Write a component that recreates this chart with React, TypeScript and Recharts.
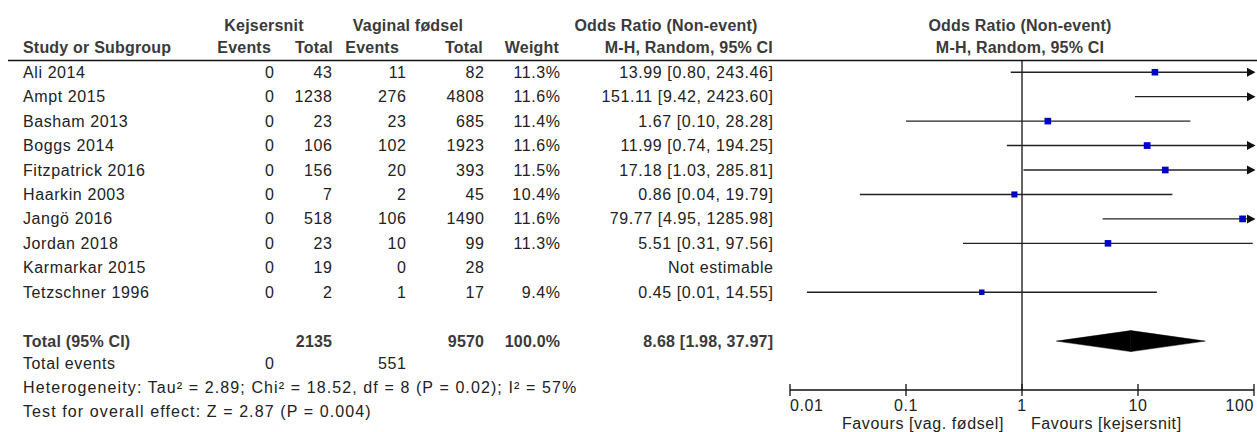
import React from "react";
import { ComposedChart, XAxis, YAxis, Scatter, ReferenceLine } from "recharts";

// study level data
const studies = [
  "Ali 2014",
  "Ampt 2015",
  "Basham 2013",
  "Boggs 2014",
  "Fitzpatrick 2016",
  "Haarkin 2003",
  "Jangö 2016",
  "Jordan 2018",
  "Karmarkar 2015",
  "Tetzschner 1996",
];
const cesEvents = [0, 0, 0, 0, 0, 0, 0, 0, 0, 0];
const cesTotal = [43, 1238, 23, 106, 156, 7, 518, 23, 19, 2];
const vagEvents = [11, 276, 23, 102, 20, 2, 106, 10, 0, 1];
const vagTotal = [82, 4808, 685, 1923, 393, 45, 1490, 99, 28, 17];
const weights = [11.3, 11.6, 11.4, 11.6, 11.5, 10.4, 11.6, 11.3, null, 9.4];
const oddsRatio = [13.99, 151.11, 1.67, 11.99, 17.18, 0.86, 79.77, 5.51, null, 0.45];
const ciLow = [0.8, 9.42, 0.1, 0.74, 1.03, 0.04, 4.95, 0.31, null, 0.014];
const ciHigh = [243.46, 2423.6, 28.28, 194.25, 285.81, 19.79, 1285.98, 97.56, null, 14.55];

const totalCes = 2135;
const totalVag = 9570;
const totalOR = 8.68;
const totalLow = 1.98;
const totalHigh = 37.97;
const totalEventsCes = 0;
const totalEventsVag = 551;
const heterogeneity = "Heterogeneity: Tau² = 2.89; Chi² = 18.52, df = 8 (P = 0.02); I² = 57%";
const overallEffect = "Test for overall effect: Z = 2.87 (P = 0.004)";

const axisTicks = [0.01, 0.1, 1, 10, 100];
const favoursLeft = "Favours [vag. fødsel]";
const favoursRight = "Favours [kejsersnit]";

const W = 1257;
const H = 432;
const FONT = "Arial, 'Liberation Sans', sans-serif";
const TXT = "#222";
const HEAD = "#3a3a3a";
const X_MIN = 0.01;
const X_MAX = 100;

// table columns (right edges unless noted)
const COL = { name: 23, cesE: 274, cesT: 332, vagE: 406, vagT: 484, wt: 560, or: 773 };

const fmtCI = (o: number, l: number, h: number) =>
  `${o.toFixed(2)} [${l.toFixed(2)}, ${h.toFixed(2)}]`;

type Row = {
  pos: number;
  bold?: boolean;
  spacing?: number;
  cells: { x: number; text: string; anchor?: "start" | "end" }[];
};

const rows: Row[] = [
  ...studies.map((s, i) => ({
    pos: i + 1,
    cells: [
      { x: COL.name, text: s, anchor: "start" as const },
      { x: COL.cesE, text: String(cesEvents[i]) },
      { x: COL.cesT, text: String(cesTotal[i]) },
      { x: COL.vagE, text: String(vagEvents[i]) },
      { x: COL.vagT, text: String(vagTotal[i]) },
      { x: COL.wt, text: weights[i] == null ? "" : `${weights[i]!.toFixed(1)}%` },
      {
        x: COL.or,
        text:
          oddsRatio[i] == null
            ? "Not estimable"
            : fmtCI(oddsRatio[i]!, ciLow[i]!, ciHigh[i]!),
      },
    ],
  })),
  {
    pos: 12,
    bold: true,
    cells: [
      { x: COL.name, text: "Total (95% CI)", anchor: "start" },
      { x: COL.cesT, text: String(totalCes) },
      { x: COL.vagT, text: String(totalVag) },
      { x: COL.wt, text: "100.0%" },
      { x: COL.or, text: fmtCI(totalOR, totalLow, totalHigh) },
    ],
  },
  {
    pos: 12.9,
    cells: [
      { x: COL.name, text: "Total events", anchor: "start" },
      { x: COL.cesE, text: String(totalEventsCes) },
      { x: COL.vagE, text: String(totalEventsVag) },
    ],
  },
  { pos: 13.88, spacing: 1.1, cells: [{ x: COL.name, text: heterogeneity, anchor: "start" }] },
  { pos: 14.86, spacing: 1.1, cells: [{ x: COL.name, text: overallEffect, anchor: "start" }] },
];

const rowByPos = new Map(rows.map((r) => [r.pos, r]));

const TableTick = (props: any) => {
  const { y, payload } = props;
  const row = rowByPos.get(payload.value);
  if (!row) return null;
  const ls = row.spacing ?? (row.bold ? 0.2 : 0.6);
  return (
    <g>
      {row.cells.map((c, k) => (
        <text
          key={k}
          x={c.anchor === "start" ? c.x : c.x + ls}
          y={y + 5.5}
          textAnchor={c.anchor ?? "end"}
          fontFamily={FONT}
          fontSize={16}
          fontWeight={row.bold ? "bold" : "normal"}
          letterSpacing={ls}
          fill={row.bold ? HEAD : TXT}
        >
          {c.text}
        </text>
      ))}
    </g>
  );
};

const AxisTick = (props: any) => {
  const { x, y, payload, index } = props;
  const last = axisTicks.length - 1;
  const anchor = index === 0 ? "start" : index === last ? "end" : "middle";
  return (
    <g>
      <line x1={x} y1={y - 6} x2={x} y2={y + 6} stroke="#111" strokeWidth={1.3} />
      <text
        x={x}
        y={y + 21}
        textAnchor={anchor}
        fontFamily={FONT}
        fontSize={16}
        letterSpacing={0.6}
        fill={TXT}
      >
        {String(payload.value)}
      </text>
      {payload.value === 1 && (
        <>
          <text x={x - 18} y={y + 38.5} textAnchor="end" fontFamily={FONT} fontSize={16} letterSpacing={0.6} fill={TXT}>
            {favoursLeft}
          </text>
          <text x={x + 9} y={y + 38.5} textAnchor="start" fontFamily={FONT} fontSize={16} letterSpacing={0.6} fill={TXT}>
            {favoursRight}
          </text>
        </>
      )}
    </g>
  );
};

const ciShape = (arrow: boolean) => (p: any) => (
  <g>
    <line x1={p.x1} y1={p.y1} x2={p.x2} y2={p.y2} stroke="#222" strokeWidth={1.4} />
    {arrow && (
      <polygon
        points={`${p.x2 - 7},${p.y2 - 4.5} ${p.x2 + 1.5},${p.y2} ${p.x2 - 7},${p.y2 + 4.5}`}
        fill="#111"
      />
    )}
  </g>
);

// halves of the summary diamond: left half points at the low end, right half at the high end
const halfDiamond = (side: "left" | "right") => (p: any) => {
  const h = 10.5;
  const pts =
    side === "left"
      ? `${p.x1},${p.y1} ${p.x2},${p.y2 - h} ${p.x2},${p.y2 + h}`
      : `${p.x1},${p.y1 - h} ${p.x2},${p.y2} ${p.x1},${p.y1 + h}`;
  return <polygon points={pts} fill="#000" stroke="#000" strokeWidth={0.5} />;
};

const squareShape = (p: any) => {
  const s = (p.payload.w as number) * 0.58;
  return <rect x={p.cx - s / 2} y={p.cy - s / 2} width={s} height={s} fill="#0000c8" />;
};

const points = studies
  .map((_, i) => ({ x: oddsRatio[i], y: i + 1, w: weights[i] }))
  .filter((d) => d.x != null && d.x <= X_MAX);

export default function App() {
  return (
    <div style={{ position: "absolute", left: 0, top: 0, width: W, height: H, background: "#fff" }}>
      <svg
        width={W}
        height={H}
        style={{ position: "absolute", left: 0, top: 0, pointerEvents: "none" }}
      >
        <g fontFamily={FONT} fontSize={16} fontWeight="bold" fill={HEAD} letterSpacing={0.2}>
          <text x={264} y={31} textAnchor="middle">Kejsersnit</text>
          <text x={408} y={31} textAnchor="middle">Vaginal fødsel</text>
          <text x={666} y={31} textAnchor="middle">Odds Ratio (Non-event)</text>
          <text x={1020} y={31} textAnchor="middle">Odds Ratio (Non-event)</text>
          <text x={23} y={53}>Study or Subgroup</text>
          <text x={271} y={53} textAnchor="end">Events</text>
          <text x={333} y={53} textAnchor="end">Total</text>
          <text x={399} y={53} textAnchor="end">Events</text>
          <text x={483} y={53} textAnchor="end">Total</text>
          <text x={559} y={53} textAnchor="end">Weight</text>
          <text x={773} y={53} textAnchor="end">M-H, Random, 95% CI</text>
          <text x={1020} y={53} textAnchor="middle">M-H, Random, 95% CI</text>
        </g>
        <line x1={8} y1={60.5} x2={W} y2={60.5} stroke="#111" strokeWidth={1.5} />
      </svg>
      <ComposedChart width={W} height={H} margin={{ top: 60, right: 3, bottom: 12, left: 0 }}>
        <XAxis
          type="number"
          dataKey="x"
          scale="log"
          domain={[X_MIN, X_MAX]}
          ticks={axisTicks}
          allowDataOverflow
          interval={0}
          height={30}
          tickSize={0}
          tickMargin={0}
          tickLine={false}
          axisLine={{ stroke: "#111", strokeWidth: 1.3 }}
          tick={<AxisTick />}
        />
        <YAxis
          type="number"
          dataKey="y"
          reversed
          domain={[0.5, 14]}
          allowDataOverflow
          ticks={rows.map((r) => r.pos)}
          interval={0}
          width={790}
          axisLine={false}
          tickLine={false}
          tick={<TableTick />}
        />
        <ReferenceLine x={1} stroke="#111" strokeWidth={1.3} />
        {studies.map((_, i) =>
          ciLow[i] == null ? null : (
            <ReferenceLine
              key={`ci-${i}`}
              segment={[
                { x: Math.max(ciLow[i]!, X_MIN), y: i + 1 },
                { x: Math.min(ciHigh[i]!, X_MAX), y: i + 1 },
              ]}
              shape={ciShape(ciHigh[i]! > X_MAX)}
            />
          )
        )}
        <ReferenceLine
          segment={[
            { x: totalLow, y: 12 },
            { x: totalOR, y: 12 },
          ]}
          shape={halfDiamond("left")}
        />
        <ReferenceLine
          segment={[
            { x: totalOR, y: 12 },
            { x: totalHigh, y: 12 },
          ]}
          shape={halfDiamond("right")}
        />
        <Scatter data={points} shape={squareShape} isAnimationActive={false} />
      </ComposedChart>
    </div>
  );
}
